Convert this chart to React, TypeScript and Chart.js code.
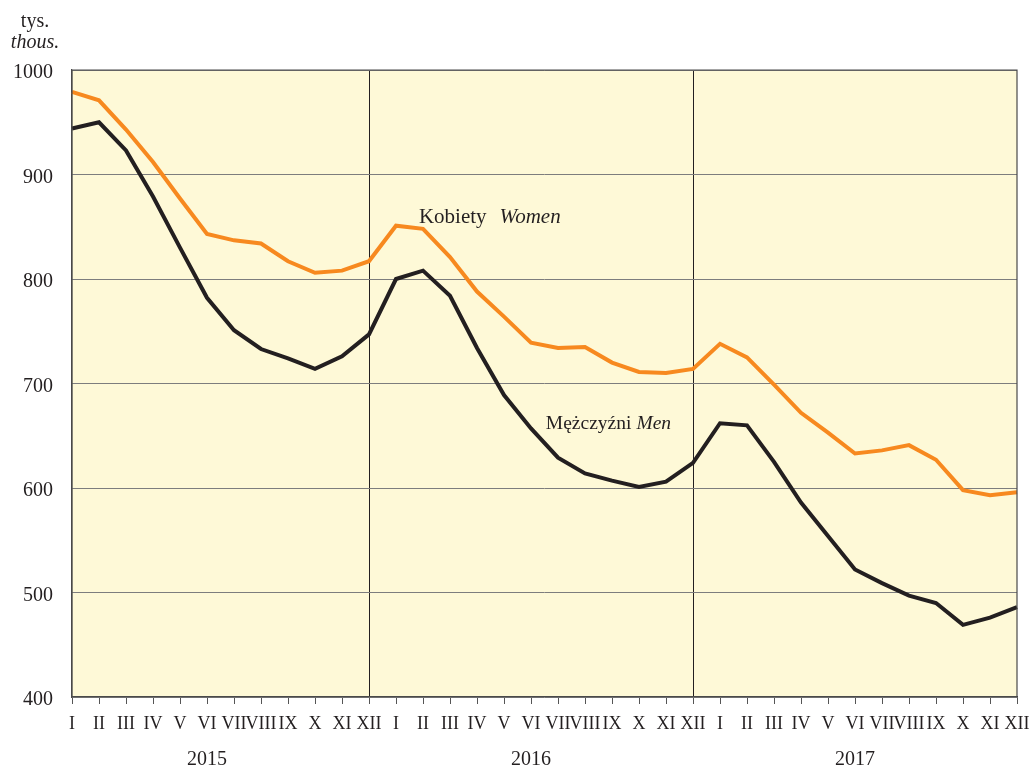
import React, { useEffect, useRef } from "react";
import { Chart, registerables } from "chart.js";

Chart.register(...registerables);

const months = ["I", "II", "III", "IV", "V", "VI", "VII", "VIII", "IX", "X", "XI", "XII"];
const categories = [...months, ...months, ...months];
const years = ["2015", "2016", "2017"];
const yearLabelIndex = [5, 17, 29];

const women = [
  979, 971, 943, 912, 877, 843, 837, 834, 817, 806, 808, 817,
  851, 848, 821, 788, 764, 739, 734, 735, 720, 711, 710, 714,
  738, 725, 699, 672, 653, 633, 636, 641, 627, 598, 593, 596,
];
const men = [
  944, 950, 923, 879, 830, 782, 751, 733, 724, 714, 726, 747,
  800, 808, 784, 734, 689, 657, 629, 614, 607, 601, 606, 624,
  662, 660, 625, 586, 554, 522, 509, 497, 490, 469, 476, 486,
];

const FONT = "'Liberation Serif', 'Times New Roman', serif";
const TEXT = "#231f20";

const decorPlugin = {
  id: "decor",
  beforeDraw(chart: any) {
    const { ctx, chartArea: a } = chart;
    ctx.save();
    ctx.fillStyle = "#fef9d7";
    ctx.fillRect(a.left, a.top, a.right - a.left, a.bottom - a.top);
    ctx.restore();
  },
  afterDatasetsDraw(chart: any) {
    const { ctx, chartArea: a } = chart;
    ctx.save();
    ctx.strokeStyle = "#4a4a4a";
    ctx.lineWidth = 1.2;
    ctx.beginPath();
    ctx.moveTo(a.left, a.bottom);
    ctx.lineTo(a.left, a.top);
    ctx.lineTo(a.right, a.top);
    ctx.lineTo(a.right, a.bottom);
    ctx.stroke();
    ctx.restore();
  },
  afterDraw(chart: any) {
    const { ctx } = chart;
    const xs = chart.scales.x;
    const ys = chart.scales.y;
    ctx.save();
    ctx.fillStyle = TEXT;
    ctx.textBaseline = "alphabetic";
    ctx.textAlign = "center";
    ctx.font = `20px ${FONT}`;
    ctx.fillText("tys.", 35, 27);
    ctx.font = `italic 20px ${FONT}`;
    ctx.fillText("thous.", 35, 48);
    ctx.font = `20px ${FONT}`;
    years.forEach((yr, i) => {
      ctx.fillText(yr, xs.getPixelForValue(yearLabelIndex[i]), 765);
    });
    ctx.textAlign = "left";
    const drawPair = (a: string, b: string, xIdx: number, yVal: number, size: number, gap: number) => {
      const x = xs.getPixelForValue(xIdx);
      const y = ys.getPixelForValue(yVal);
      ctx.font = `${size}px ${FONT}`;
      ctx.fillText(a, x, y);
      const w = ctx.measureText(a).width + gap;
      ctx.font = `italic ${size}px ${FONT}`;
      ctx.fillText(b, x + w, y);
    };
    drawPair("Kobiety", "Women", 12.85, 854, 21, 13);
    drawPair("Mężczyźni", "Men", 17.55, 656, 19.5, 5);
    ctx.restore();
  },
};

export default function App() {
  const ref = useRef<HTMLCanvasElement | null>(null);
  useEffect(() => {
    document.body.style.margin = "0";
    if (!ref.current) return;
    const chart = new Chart(ref.current, {
      type: "line",
      data: {
        labels: categories,
        datasets: [
          {
            label: "Kobiety Women",
            data: women,
            borderColor: "#f7891f",
            borderWidth: 4,
            pointRadius: 0,
            tension: 0,
            fill: false,
          },
          {
            label: "Mężczyźni Men",
            data: men,
            borderColor: "#231f20",
            borderWidth: 4,
            pointRadius: 0,
            tension: 0,
            fill: false,
          },
        ],
      },
      options: {
        animation: false,
        responsive: false,
        maintainAspectRatio: false,
        layout: { padding: { top: 70, right: 16, left: 0, bottom: 0 } },
        plugins: {
          legend: { display: false },
          tooltip: { enabled: false },
        },
        scales: {
          x: {
            type: "category",
            offset: false,
            afterFit: (s: any) => {
              s.height = 72;
              s.paddingRight = 0;
              s.paddingLeft = 0;
            },
            grid: {
              color: (c: any) => (c.index === 11 || c.index === 23 ? "#231f20" : "rgba(0,0,0,0)"),
              tickColor: "#555555",
              tickLength: 7,
              lineWidth: 1,
            },
            border: { color: "#4a4a4a", width: 1.2 },
            ticks: {
              autoSkip: false,
              maxRotation: 0,
              minRotation: 0,
              padding: 9,
              color: TEXT,
              font: { family: FONT, size: 18 },
            },
          },
          y: {
            min: 400,
            max: 1000,
            afterFit: (s: any) => {
              s.width = 72;
              s.paddingTop = 0;
              s.paddingBottom = 0;
            },
            grid: { color: "#7d7d7d", lineWidth: 1, drawTicks: false },
            border: { color: "#4a4a4a", width: 1.2 },
            ticks: {
              stepSize: 100,
              padding: 19,
              labelOffset: 3,
              color: TEXT,
              font: { family: FONT, size: 20 },
              callback: (v: any) => String(v),
            },
          },
        },
      },
      plugins: [decorPlugin],
    });
    return () => chart.destroy();
  }, []);
  return (
    <div style={{ position: "fixed", left: 0, top: 0, width: 1033, height: 769, background: "#fff" }}>
      <canvas ref={ref} width={1033} height={769} style={{ width: 1033, height: 769, display: "block" }} />
    </div>
  );
}
